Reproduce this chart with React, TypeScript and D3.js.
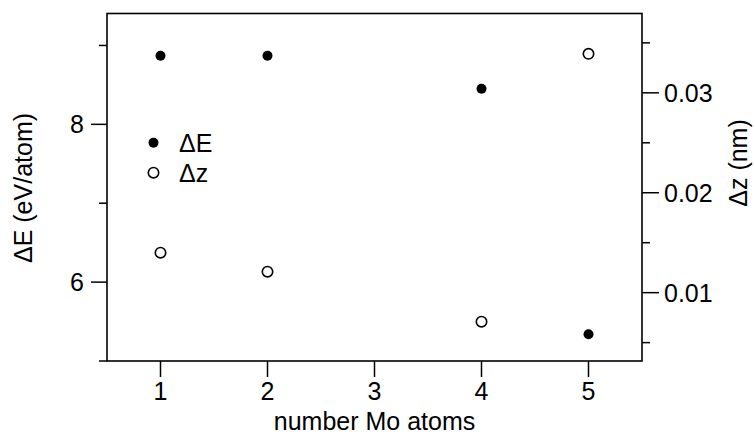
import React from "react";
import * as d3 from "d3";

const nAtoms = [1, 2, 4, 5];
const deltaE = [8.87, 8.87, 8.45, 5.34];
const deltaZ = [0.014, 0.0121, 0.0071, 0.0339];
const xTicks = [1, 2, 3, 4, 5];
const leftMajor = [6, 8];
const leftMinor = [5, 7, 9];
const rightMajor = [0.01, 0.02, 0.03];
const rightMinor = [0.005, 0.015, 0.025, 0.035];

const W = 755;
const H = 436;
const L = 107, R = 642, T = 13.5, B = 361;
const FONT = "'Liberation Sans', Arial, Helvetica, sans-serif";
const FS = 25;

export default function App() {
  const x = d3.scaleLinear().domain([0.5, 5.5]).range([L, R]);
  const yL = d3.scaleLinear().domain([5, 9.405]).range([B, T]);
  const yR = d3.scaleLinear().domain([0.00316, 0.03794]).range([B, T]);
  const fmtR = d3.format(".2f");

  return (
    <svg width={W} height={H} style={{ position: "absolute", left: 0, top: 0, background: "#fff" }} fontFamily={FONT}>
      <rect x={0} y={0} width={W} height={H} fill="#fff" />
      {/* frame */}
      <rect x={L} y={T} width={R - L} height={B - T} fill="none" stroke="#000" strokeWidth={1.6} />
      {/* bottom ticks */}
      {xTicks.map((t) => (
        <g key={"x" + t}>
          <line x1={x(t)} x2={x(t)} y1={B} y2={B + 16} stroke="#000" strokeWidth={1.5} />
          <text x={x(t)} y={400} textAnchor="middle" fontSize={FS} fill="#000">{t}</text>
        </g>
      ))}
      <text x={(L + R) / 2} y={430} textAnchor="middle" fontSize={FS} fill="#000">number Mo atoms</text>
      {/* left ticks */}
      {leftMajor.map((t) => (
        <g key={"lm" + t}>
          <line x1={L - 16} x2={L} y1={yL(t)} y2={yL(t)} stroke="#000" strokeWidth={1.5} />
          <text x={84} y={yL(t) + 9} textAnchor="end" fontSize={FS} fill="#000">{t}</text>
        </g>
      ))}
      {leftMinor.map((t) => (
        <line key={"ln" + t} x1={L - 8} x2={L} y1={yL(t)} y2={yL(t)} stroke="#000" strokeWidth={1.5} />
      ))}
      <text transform={`translate(32,188) rotate(-90)`} textAnchor="middle" fontSize={FS} fill="#000">ΔE (eV/atom)</text>
      {/* right ticks */}
      {rightMajor.map((t) => (
        <g key={"rm" + t}>
          <line x1={R} x2={R + 17} y1={yR(t)} y2={yR(t)} stroke="#000" strokeWidth={1.5} />
          <text x={R + 22} y={yR(t) + 9} textAnchor="start" fontSize={FS} fill="#000">{fmtR(t)}</text>
        </g>
      ))}
      {rightMinor.map((t) => (
        <line key={"rn" + t} x1={R} x2={R + 8} y1={yR(t)} y2={yR(t)} stroke="#000" strokeWidth={1.5} />
      ))}
      <text transform={`translate(747,163) rotate(-90)`} textAnchor="middle" fontSize={FS} fill="#000">Δz (nm)</text>
      {/* data */}
      {nAtoms.map((n, i) => (
        <circle key={"e" + n} cx={x(n)} cy={yL(deltaE[i])} r={5} fill="#000" />
      ))}
      {nAtoms.map((n, i) => (
        <circle key={"z" + n} cx={x(n)} cy={yR(deltaZ[i])} r={5.2} fill="#fff" stroke="#000" strokeWidth={1.6} />
      ))}
      {/* legend */}
      <circle cx={153.5} cy={142.7} r={5} fill="#000" />
      <text x={179} y={152} fontSize={FS} fill="#000">ΔE</text>
      <circle cx={153.5} cy={172.7} r={5.2} fill="#fff" stroke="#000" strokeWidth={1.6} />
      <text x={179} y={182} fontSize={FS} fill="#000">Δz</text>
    </svg>
  );
}
